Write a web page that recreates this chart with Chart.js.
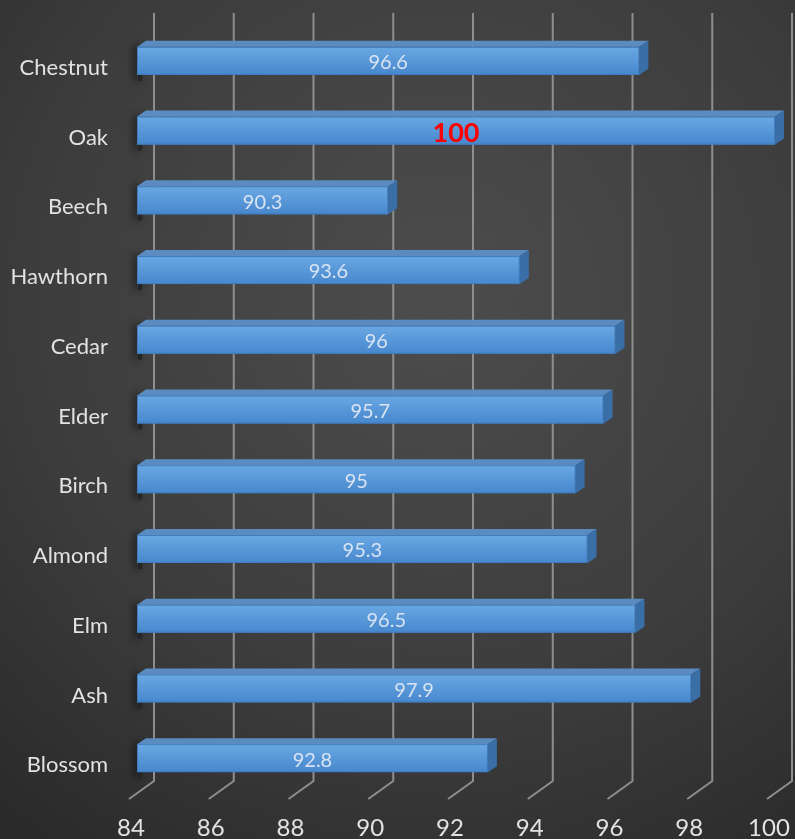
<!DOCTYPE html>
<html>
<head>
<meta charset="utf-8">
<script src="https://cdn.jsdelivr.net/npm/chart.js@4.4.1/dist/chart.umd.min.js"></script>
<style>
  html, body { margin: 0; padding: 0; background: #333; }
  #wrap { width: 795px; height: 839px; position: relative; }
</style>
</head>
<body>
<div id="wrap"><canvas id="treeChart"></canvas></div>
<script>
// Donnees du graphique
const categories = ['Chestnut', 'Oak', 'Beech', 'Hawthorn', 'Cedar', 'Elder', 'Birch', 'Almond', 'Elm', 'Ash', 'Blossom'];
const values = [96.6, 100, 90.3, 93.6, 96, 95.7, 95, 95.3, 96.5, 97.9, 92.8];
const xTicks = [84, 86, 88, 90, 92, 94, 96, 98, 100];

// Couleurs
const FRONT_TOP = '#6aa8e3';
const FRONT_BOTTOM = '#4787cd';
const TOP_FACE = '#5a8cc1';
const SIDE_FACE = '#3a6ea6';
const GRID = '#8e8e8e';
const TEXT = '#e2e2e2';

// profondeur 3D
const DX = 9, DY = 6;

// --- fond degrade radial ---
const backgroundPlugin = {
    id: 'bg',
    beforeDraw(chart) {
        const ctx = chart.ctx;
        const w = chart.width, h = chart.height;
        const g = ctx.createRadialGradient(w * 0.55, h * 0.35, 20, w * 0.55, h * 0.35, w * 0.85);
        g.addColorStop(0, '#4c4c4c');
        g.addColorStop(0.6, '#3c3c3c');
        g.addColorStop(1, '#2a2a2a');
        ctx.save();
        ctx.fillStyle = g;
        ctx.fillRect(0, 0, w, h);
        ctx.restore();
    }
};

// --- grille en perspective ---
const gridPlugin = {
    id: 'grid3d',
    beforeDatasetsDraw(chart) {
        const ctx = chart.ctx;
        const xs = chart.scales.x;
        const area = chart.chartArea;
        ctx.save();
        ctx.strokeStyle = GRID;
        ctx.lineWidth = 2;
        xTicks.forEach(v => {
            const px = xs.getPixelForValue(v);
            ctx.beginPath();
            ctx.moveTo(px + 17, area.top - 13);
            ctx.lineTo(px + 17, area.bottom - 12);
            ctx.lineTo(px - 8, area.bottom + 6);
            ctx.stroke();
        });
        ctx.restore();
    }
};

// --- barres 3D + etiquettes ---
const barsPlugin = {
    id: 'bars3d',
    afterDatasetsDraw(chart) {
        const ctx = chart.ctx;
        const meta = chart.getDatasetMeta(0);
        const x0 = chart.scales.x.getPixelForValue(84);
        ctx.save();
        meta.data.forEach((bar, i) => {
            const x1 = bar.x;
            const y0 = bar.y - bar.height / 2, y1 = bar.y + bar.height / 2;

            // ombre a gauche
            ctx.save();
            ctx.shadowColor = 'rgba(0,0,0,0.85)';
            ctx.shadowBlur = 9;
            ctx.shadowOffsetX = -3;
            ctx.fillStyle = '#262626';
            ctx.fillRect(x0 + 1, y0 - 2, 4, y1 - y0 + 8);
            ctx.restore();

            // face avant
            const g = ctx.createLinearGradient(0, y0, 0, y1);
            g.addColorStop(0, FRONT_TOP);
            g.addColorStop(1, FRONT_BOTTOM);
            ctx.fillStyle = g;
            ctx.fillRect(x0, y0, x1 - x0, y1 - y0);
            ctx.strokeStyle = '#3f7dc0';
            ctx.lineWidth = 1;
            ctx.strokeRect(x0 + 0.5, y0 + 0.5, x1 - x0 - 1, y1 - y0 - 1);

            // face du dessus
            ctx.fillStyle = TOP_FACE;
            ctx.beginPath();
            ctx.moveTo(x0, y0);
            ctx.lineTo(x0 + DX, y0 - DY);
            ctx.lineTo(x1 + DX, y0 - DY);
            ctx.lineTo(x1, y0);
            ctx.closePath();
            ctx.fill();

            // face laterale
            ctx.fillStyle = SIDE_FACE;
            ctx.beginPath();
            ctx.moveTo(x1, y0);
            ctx.lineTo(x1 + DX, y0 - DY);
            ctx.lineTo(x1 + DX, y1 - DY);
            ctx.lineTo(x1, y1);
            ctx.closePath();
            ctx.fill();

            // etiquette
            const cx = (x0 + x1) / 2;
            ctx.textAlign = 'center';
            ctx.textBaseline = 'middle';
            if (values[i] === 100) {
                ctx.fillStyle = '#ff0000';
                ctx.font = 'bold 27px Lato';
                ctx.fillText(String(values[i]), cx, bar.y + 3);
            } else {
                ctx.fillStyle = '#d9e4f2';
                ctx.font = '20px Lato';
                ctx.fillText(String(values[i]), cx, bar.y + 2);
            }
        });
        ctx.restore();
    }
};

new Chart(document.getElementById('treeChart'), {
    type: 'bar',
    data: {
        labels: categories,
        datasets: [{
            data: values,
            backgroundColor: 'rgba(0,0,0,0)',
            borderWidth: 0,
            barThickness: 28
        }]
    },
    options: {
        indexAxis: 'y',
        responsive: true,
        maintainAspectRatio: false,
        animation: false,
        events: [],
        layout: { padding: { left: 0, right: 20, top: 26, bottom: 0 } },
        plugins: {
            legend: { display: false },
            tooltip: { enabled: false }
        },
        scales: {
            x: {
                type: 'linear',
                min: 84,
                max: 100,
                afterBuildTicks: (scale) => { scale.ticks = xTicks.map(v => ({ value: v })); },
                afterFit: (scale) => {
                    scale.height = 46;
                    scale.paddingLeft = 0;
                    scale.paddingRight = 0;
                },
                grid: { display: false, drawTicks: false },
                border: { display: false },
                ticks: {
                    color: TEXT,
                    font: { family: 'Lato', size: 24 },
                    padding: 21,
                    labelOffset: -6,
                    maxRotation: 0
                }
            },
            y: {
                afterFit: (scale) => {
                    scale.width = 137;
                    scale.paddingTop = 0;
                    scale.paddingBottom = 0;
                },
                grid: { display: false, drawTicks: false },
                border: { display: false },
                ticks: {
                    color: TEXT,
                    font: { family: 'Lato', size: 22 },
                    padding: 29,
                    labelOffset: 7
                }
            }
        }
    },
    plugins: [backgroundPlugin, gridPlugin, barsPlugin]
});
</script>
</body>
</html>
